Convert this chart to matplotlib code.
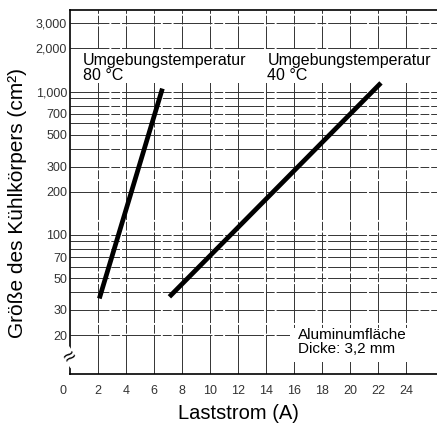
import matplotlib
matplotlib.use('Agg')
import matplotlib.pyplot as plt
import matplotlib.transforms as mtransforms
from matplotlib.patches import Rectangle

plt.rcParams['font.family'] = ['Liberation Sans', 'DejaVu Sans']

# heat sink area vs. load current, two ambient temperatures
current_80 = [2.1, 6.6]
area_80 = [36, 1050]
current_40 = [7.1, 22.2]
area_40 = [37, 1150]

y_ticks = [20, 30, 50, 70, 100, 200, 300, 500, 700, 1000, 2000, 3000]
y_ticklabels = ['20', '30', '50', '70', '100', '200', '300', '500', '700', '1,000', '2,000', '3,000']
x_ticks = [0, 2, 4, 6, 8, 10, 12, 14, 16, 18, 20, 22, 24]
h_grid = [20, 30, 40, 50, 60, 70, 80, 90, 100, 200, 300, 400, 500, 600, 700, 800, 900,
          1000, 2000, 3000]
v_grid = [2, 4, 6, 8, 10, 12, 14, 16, 18, 20, 22, 24]

fig = plt.figure(figsize=(4.37, 4.25), dpi=100)
ax = fig.add_axes([0.160, 0.120, 0.840, 0.856])
ax.set_yscale('log')
ax.set_xlim(0, 26.2)
ax.set_ylim(10.7, 3700)

grid_style = dict(color='0.2', lw=0.7, linestyle=(0, (40, 2, 9, 2)), zorder=1)
for v in h_grid:
    ax.axhline(v, **grid_style)
for v in v_grid:
    ax.axvline(v, **grid_style)

# blank areas behind the annotations
for x0, y0, w, h in [(0.0, 0.80, 1.0, 0.092), (0.60, 0.033, 0.40, 0.093)]:
    ax.add_patch(Rectangle((x0, y0), w, h, transform=ax.transAxes,
                           facecolor='white', edgecolor='none', zorder=1.5))

ax.plot(current_80, area_80, color='black', lw=3.4, solid_capstyle='butt', zorder=4)
ax.plot(current_40, area_40, color='black', lw=3.4, solid_capstyle='butt', zorder=4)

ax.text(0.95, 1850, 'Umgebungstemperatur\n80 °C', fontsize=11.5, ha='left', va='top',
        linespacing=1.0, zorder=3)
ax.text(14.1, 1850, 'Umgebungstemperatur\n40 °C', fontsize=11.5, ha='left', va='top',
        linespacing=1.0, zorder=3)
ax.text(16.3, 22.5, 'Aluminumfläche\nDicke: 3,2 mm', fontsize=11, ha='left', va='top',
        linespacing=1.05, zorder=3)

ax.set_yticks(y_ticks)
ax.set_yticklabels(y_ticklabels)
ax.yaxis.set_minor_locator(matplotlib.ticker.NullLocator())
ax.set_xticks(x_ticks)
ax.tick_params(axis='both', length=0, labelsize=9, labelcolor='0.2')
ax.tick_params(axis='x', pad=8)
ax.tick_params(axis='y', pad=2)

# the zero label sits a bit left of the axis origin
zero_lbl = ax.get_xticklabels()[0]
zero_lbl.set_transform(zero_lbl.get_transform() +
                       mtransforms.ScaledTranslation(-7 / 100, 0, fig.dpi_scale_trans))

ax.set_xlabel('Laststrom (A)', fontsize=14.5)
ax.set_ylabel('Größe des Kühlkörpers (cm²)', fontsize=15)
ax.xaxis.set_label_coords(0.458, -0.082)
ax.yaxis.set_label_coords(-0.118, 0.47)

for side in ['left', 'bottom', 'top']:
    ax.spines[side].set_linewidth(1.2)
ax.spines['right'].set_visible(False)

# axis break marker on the y axis
ax.text(0, 14, '≈', rotation=35, fontsize=15, ha='center', va='center',
        transform=ax.get_yaxis_transform(), clip_on=False, zorder=5,
        bbox=dict(facecolor='white', edgecolor='none', pad=0))

fig.savefig('out.png', dpi=100)
